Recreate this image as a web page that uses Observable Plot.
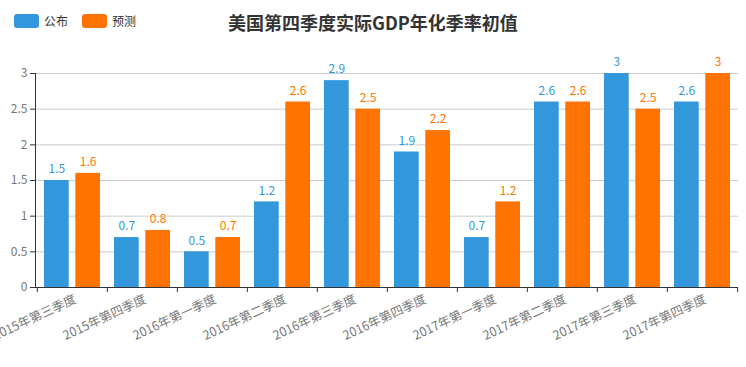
<!DOCTYPE html>
<html>
<head>
<meta charset="utf-8">
<script src="https://cdn.jsdelivr.net/npm/d3@7"></script>
<script src="https://cdn.jsdelivr.net/npm/@observablehq/plot@0.6"></script>
<style>
  html, body { margin: 0; padding: 0; background: #fff; }
  body { font-family: "Noto Sans CJK SC", "Noto Sans", sans-serif; }
  #wrap { position: relative; width: 746px; height: 367px; overflow: hidden; }
  #title { position: absolute; left: 0; width: 746px; top: 9px; text-align: center; font-size: 18px; font-weight: bold; color: #333; line-height: 26px; }
  #legend { position: absolute; left: 14px; top: 13px; display: flex; align-items: center; font-size: 12px; color: #333; line-height: 16px; }
  .sw { width: 25px; height: 14px; border-radius: 3px; margin-right: 5px; }
  .item { display: flex; align-items: center; margin-right: 14px; }
  #chart svg { display: block; overflow: visible; }
</style>
</head>
<body>
<div id="wrap">
  <div id="chart"></div>
  <div id="legend"></div>
  <div id="title"></div>
</div>
<script>
const title = "美国第四季度实际GDP年化季率初值";
const categories = ["2015年第三季度","2015年第四季度","2016年第一季度","2016年第二季度","2016年第三季度","2016年第四季度","2017年第一季度","2017年第二季度","2017年第三季度","2017年第四季度"];
const seriesNames = ["公布", "预测"];
const published = [1.5, 0.7, 0.5, 1.2, 2.9, 1.9, 0.7, 2.6, 3, 2.6];
const forecast = [1.6, 0.8, 0.7, 2.6, 2.5, 2.2, 1.2, 2.6, 2.5, 3];
const yTicks = [0, 0.5, 1, 1.5, 2, 2.5, 3];
const colors = ["#3398DB", "#FF7300"];

const W = 746, H = 367;
const mL = 35, mR = 8, mT = 73, mB = 80;
const bw = (W - mL - mR) / categories.length;
const pad = 7, barW = 25;
const inner = bw - pad - barW; // inset on the far side

const pubData = categories.map((c, i) => ({cat: c, v: published[i]}));
const fcData = categories.map((c, i) => ({cat: c, v: forecast[i]}));

document.getElementById("title").textContent = title;
const lg = document.getElementById("legend");
seriesNames.forEach((n, i) => {
  const it = document.createElement("div"); it.className = "item";
  const sw = document.createElement("div"); sw.className = "sw"; sw.style.background = colors[i];
  const t = document.createElement("span"); t.textContent = n;
  it.appendChild(sw); it.appendChild(t); lg.appendChild(it);
});

const off = bw / 2 - pad - barW / 2;

const chart = Plot.plot({
  width: W, height: H,
  marginLeft: mL, marginRight: mR, marginTop: mT, marginBottom: mB,
  style: {fontFamily: "'Noto Sans CJK SC', sans-serif", fontSize: "12px", background: "transparent", overflow: "visible"},
  x: {domain: categories, padding: 0, axis: null},
  y: {domain: [0, 3], axis: null},
  marks: [
    Plot.gridY(yTicks, {stroke: "#ccc", strokeOpacity: 1}),
    Plot.barY(pubData, {x: "cat", y: "v", fill: colors[0], insetLeft: pad, insetRight: inner}),
    Plot.barY(fcData, {x: "cat", y: "v", fill: colors[1], insetLeft: inner, insetRight: pad}),
    Plot.text(pubData, {x: "cat", y: "v", text: d => String(d.v), fill: colors[0], dx: -off, dy: -11, fontSize: 12}),
    Plot.text(fcData, {x: "cat", y: "v", text: d => String(d.v), fill: colors[1], dx: off, dy: -11, fontSize: 12}),
    Plot.axisY(yTicks, {ticks: yTicks, tickSize: 5, tickPadding: 3, stroke: "#333", color: "#777", fontSize: 12, label: null, tickFormat: d => String(d)}),
    Plot.frame({anchor: "left", stroke: "#333"}),
    Plot.ruleY([0], {stroke: "#333"}),
    Plot.axisX({tickSize: 5, stroke: "#333", tickFormat: () => "", dx: -bw / 2, label: null}),
    Plot.axisX([categories[categories.length - 1]], {tickSize: 5, stroke: "#333", tickFormat: () => "", dx: bw / 2, label: null}),
    Plot.axisX({tickSize: 0, tickPadding: 11, dx: 3, tickRotate: -25, color: "#777", fontSize: 12.5, label: null})
  ]
});
document.getElementById("chart").appendChild(chart);
</script>
</body>
</html>
